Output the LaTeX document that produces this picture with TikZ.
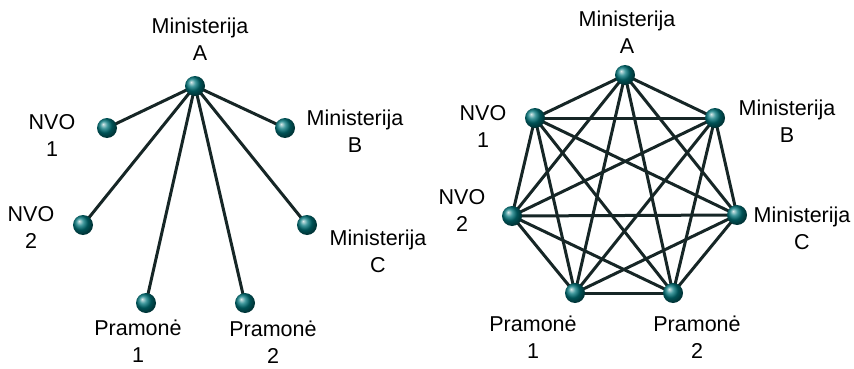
\documentclass[tikz,border=0pt]{standalone}
\usepackage{fontspec}
\setmainfont{Liberation Sans}
\definecolor{edgecol}{RGB}{22,38,38}
\definecolor{ballcol}{RGB}{0,118,124}
\begin{document}
\begin{tikzpicture}[x=1pt,y=-1pt,
  ballnode/.style={circle,inner sep=0pt,minimum size=20pt,shading=ball,ball color=ballcol},
  lbl/.style={align=center,font=\fontsize{21.5}{27}\selectfont,inner sep=0pt},
  edge/.style={draw=edgecol,line width=3pt}]
\useasboundingbox (0,0) rectangle (854,369);
% left star graph
\coordinate (hA) at (195,86);
\coordinate (hN1) at (107,128);
\coordinate (hB) at (285,128);
\coordinate (hN2) at (83,225);
\coordinate (hC) at (307,225);
\coordinate (hP1) at (146,303);
\coordinate (hP2) at (245,303);
\foreach \t in {hN1,hB,hN2,hC,hP1,hP2} \draw[edge] (hA) -- (\t);
\foreach \t in {hA,hN1,hB,hN2,hC,hP1,hP2} \node[ballnode] (n\t) at (\t) {};
\node[lbl] (lA) at (200,39.5) {Ministerija\\A};
\node[lbl] (lN1) at (52,135) {NVO\\1};
\node[lbl] (lB) at (355,131.5) {Ministerija\\B};
\node[lbl] (lN2) at (31,227) {NVO\\2};
\node[lbl] (lC) at (378,251) {Ministerija\\C};
\node[lbl] (lP1) at (138,341.5) {Pramonė\\1};
\node[lbl] (lP2) at (273,342) {Pramonė\\2};
% right complete graph
\coordinate (k1) at (625,75);
\coordinate (k2) at (715,118);
\coordinate (k3) at (737,215);
\coordinate (k4) at (673,293);
\coordinate (k5) at (575,293);
\coordinate (k6) at (512,216);
\coordinate (k7) at (535,118);
\foreach \i in {1,...,7} {
  \foreach \j in {1,...,7} {
    \ifnum\i<\j \draw[edge] (k\i) -- (k\j); \fi
  }
}
\foreach \i in {1,...,7} \node[ballnode] (m\i) at (k\i) {};
\node[lbl] (rA) at (627,32.5) {Ministerija\\A};
\node[lbl] (rN1) at (483,126.5) {NVO\\1};
\node[lbl] (rB) at (787,121.5) {Ministerija\\B};
\node[lbl] (rN2) at (462,210) {NVO\\2};
\node[lbl] (rC) at (802,228.5) {Ministerija\\C};
\node[lbl] (rP1) at (533,337.5) {Pramonė\\1};
\node[lbl] (rP2) at (697,337.5) {Pramonė\\2};
\end{tikzpicture}
\end{document}
